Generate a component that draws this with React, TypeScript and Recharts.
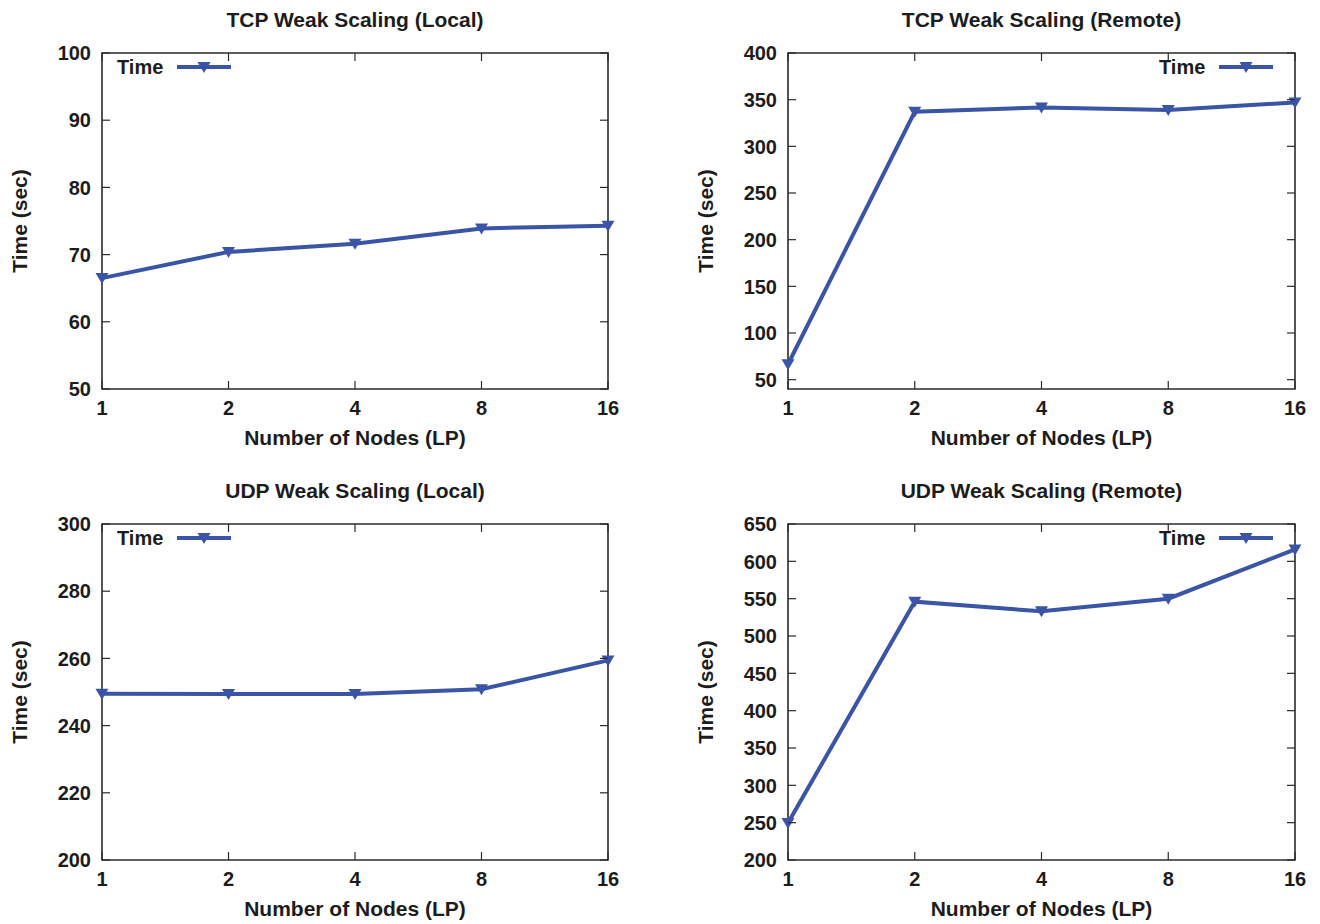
import { LineChart, Line, XAxis, YAxis, Legend, ReferenceArea } from "recharts";

// x categories (log-spaced node counts)
const NODES = ["1", "2", "4", "8", "16"];

// measured times, seconds
const TCP_LOCAL = [66.5, 70.4, 71.6, 73.9, 74.3];
const TCP_REMOTE = [66.5, 337, 341.6, 338.8, 347];
const UDP_LOCAL = [249.5, 249.4, 249.4, 250.8, 259.4];
const UDP_REMOTE = [249.5, 546, 533, 550, 616];

const TCP_LOCAL_TICKS = [50, 60, 70, 80, 90, 100];
const TCP_REMOTE_TICKS = [50, 100, 150, 200, 250, 300, 350, 400];
const UDP_LOCAL_TICKS = [200, 220, 240, 260, 280, 300];
const UDP_REMOTE_TICKS = [200, 250, 300, 350, 400, 450, 500, 550, 600, 650];

const BLUE = "#3a54a6";
const INK = "#1c1c1c";
const FRAME = "#2b2b2b";
const FONT = "'Liberation Sans', Arial, Helvetica, sans-serif";

const W = 660;
const H = 462;
const PLOT_H = 336;
const TICK = 8;

type PanelProps = {
  title: string;
  values: number[];
  domain: [number, number];
  ticks: number[];
  left: number;
  top: number;
  plotTop: number;
  yAxisWidth: number;
  rightGap: number;
  legendLeft: number;
};

function TriangleDot(props: any) {
  const { cx, cy, index } = props;
  if (cx == null || cy == null) return null;
  return (
    <path
      key={`dot-${index}`}
      d={`M${cx - 6.5},${cy - 5} L${cx + 6.5},${cy - 5} L${cx},${cy + 6} Z`}
      fill={BLUE}
    />
  );
}

function TimeLegend() {
  return (
    <div style={{ display: "flex", alignItems: "center", fontFamily: FONT }}>
      <span style={{ fontSize: 20, fontWeight: 700, color: INK }}>Time</span>
      <svg width={56} height={14} style={{ marginLeft: 13 }}>
        <line x1={1} y1={6} x2={55} y2={6} stroke={BLUE} strokeWidth={4} />
        <path d="M21.5,1 L34.5,1 L28,12 Z" fill={BLUE} />
      </svg>
    </div>
  );
}

function Panel({
  title,
  values,
  domain,
  ticks,
  left,
  top,
  plotTop,
  yAxisWidth,
  rightGap,
  legendLeft,
}: PanelProps) {
  const data = NODES.map((n, i) => ({ nodes: n, time: values[i] }));
  const plotLeft = yAxisWidth;
  const plotRight = W - rightGap;
  const plotBottom = plotTop + PLOT_H;
  const plotCenter = (plotLeft + plotRight) / 2;

  // x tick: label under the frame, inward marks on bottom and top edges
  const XTick = (p: any) => {
    const x = p.x;
    return (
      <g>
        <line x1={x} y1={plotBottom} x2={x} y2={plotBottom - TICK} stroke={FRAME} strokeWidth={1.2} />
        <line x1={x} y1={plotTop} x2={x} y2={plotTop + TICK} stroke={FRAME} strokeWidth={1.2} />
        <text
          x={x}
          y={plotBottom + 12}
          dy="0.71em"
          textAnchor="middle"
          fill={INK}
          fontSize={20}
          fontWeight={700}
        >
          {p.payload.value}
        </text>
      </g>
    );
  };

  // y tick: label left of the frame, inward marks on left and right edges
  const YTick = (p: any) => {
    const y = p.y;
    return (
      <g>
        <line x1={plotLeft} y1={y} x2={plotLeft + TICK} y2={y} stroke={FRAME} strokeWidth={1.2} />
        <line x1={plotRight} y1={y} x2={plotRight - TICK} y2={y} stroke={FRAME} strokeWidth={1.2} />
        <text
          x={plotLeft - 11}
          y={y}
          dy="0.36em"
          textAnchor="end"
          fill={INK}
          fontSize={20}
          fontWeight={700}
        >
          {p.payload.value}
        </text>
      </g>
    );
  };

  return (
    <div style={{ position: "absolute", left, top, width: W, height: H }}>
      <div
        style={{
          position: "absolute",
          left: plotCenter - 200,
          width: 400,
          top: plotTop - 45,
          textAlign: "center",
          fontSize: 21,
          fontWeight: 700,
          color: INK,
          fontFamily: FONT,
          lineHeight: "24px",
        }}
      >
        {title}
      </div>
      <LineChart
        width={W}
        height={H}
        data={data}
        margin={{ top: plotTop, right: rightGap, left: 0, bottom: 0 }}
      >
        <XAxis
          dataKey="nodes"
          type="category"
          scale="point"
          height={H - plotBottom}
          tick={XTick}
          tickLine={false}
          axisLine={false}
          label={{
            value: "Number of Nodes (LP)",
            position: "insideTop",
            offset: 41,
            fill: INK,
            fontSize: 21,
            fontWeight: 700,
          }}
        />
        <YAxis
          domain={domain}
          ticks={ticks}
          type="number"
          width={yAxisWidth}
          interval={0}
          tick={YTick}
          tickLine={false}
          axisLine={false}
          allowDataOverflow
          label={{
            value: "Time (sec)",
            angle: -90,
            position: "insideLeft",
            offset: yAxisWidth === 102 ? 20 : 46,
            fill: INK,
            fontSize: 21,
            fontWeight: 700,
            style: { textAnchor: "middle" },
          }}
        />
        <ReferenceArea
          x1={NODES[0]}
          x2={NODES[NODES.length - 1]}
          y1={domain[0]}
          y2={domain[1]}
          fill="none"
          stroke={FRAME}
          strokeWidth={1.6}
          ifOverflow="visible"
        />
        <Legend
          layout="horizontal"
          verticalAlign="middle"
          align="center"
          content={() => <TimeLegend />}
          wrapperStyle={{ left: legendLeft, top: plotTop + 3, width: "auto" }}
        />
        <Line
          type="linear"
          dataKey="time"
          stroke={BLUE}
          strokeWidth={4}
          dot={TriangleDot}
          activeDot={false}
          isAnimationActive={false}
        />
      </LineChart>
    </div>
  );
}

export default function App() {
  return (
    <div
      style={{
        position: "absolute",
        left: 0,
        top: 0,
        width: 1320,
        height: 924,
        background: "#fff",
        fontFamily: FONT,
      }}
    >
      <Panel
        title="TCP Weak Scaling (Local)"
        values={TCP_LOCAL}
        domain={[50, 100]}
        ticks={TCP_LOCAL_TICKS}
        left={0}
        top={0}
        plotTop={53}
        yAxisWidth={102}
        rightGap={52}
        legendLeft={117}
      />
      <Panel
        title="TCP Weak Scaling (Remote)"
        values={TCP_REMOTE}
        domain={[40, 400]}
        ticks={TCP_REMOTE_TICKS}
        left={660}
        top={0}
        plotTop={53}
        yAxisWidth={128}
        rightGap={25}
        legendLeft={499}
      />
      <Panel
        title="UDP Weak Scaling (Local)"
        values={UDP_LOCAL}
        domain={[200, 300]}
        ticks={UDP_LOCAL_TICKS}
        left={0}
        top={462}
        plotTop={62}
        yAxisWidth={102}
        rightGap={52}
        legendLeft={117}
      />
      <Panel
        title="UDP Weak Scaling (Remote)"
        values={UDP_REMOTE}
        domain={[200, 650]}
        ticks={UDP_REMOTE_TICKS}
        left={660}
        top={462}
        plotTop={62}
        yAxisWidth={128}
        rightGap={25}
        legendLeft={499}
      />
    </div>
  );
}
